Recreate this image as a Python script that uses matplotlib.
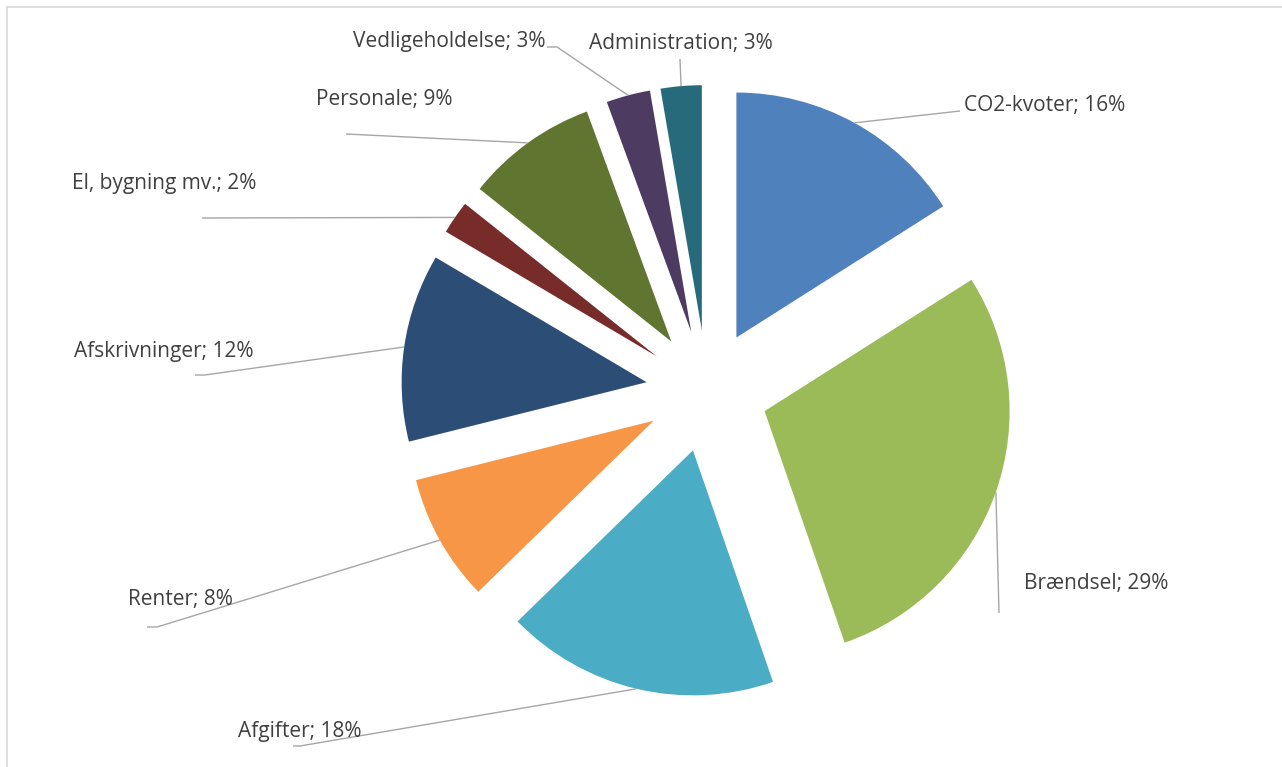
import numpy as np
import matplotlib.pyplot as plt
from matplotlib.lines import Line2D

# data (shares in %)
categories = ["CO2-kvoter", "Brændsel", "Afgifter", "Renter", "Afskrivninger",
              "El, bygning mv.", "Personale", "Vedligeholdelse", "Administration"]
shares = [16.0, 28.7, 18.0, 8.4, 12.4, 2.2, 8.7, 2.9, 2.7]
colors = ["#4F81BD", "#9BBB59", "#4BACC6", "#F79646", "#2C4D75",
          "#772C2A", "#5F7530", "#4D3B62", "#276A7C"]

# layout (pixel coords, y measured from top)
W, H = 1282, 767
center_px = (707, 391)
radius = 245
explode_px = 61
label_pos = [(964, 105), (1024, 584), (238, 731), (128, 599), (74, 352),
             (72, 184), (316, 100), (353, 42), (589, 44)]
leader_pts = [[(960, 111)], [(999, 613)], [(300, 746), (293, 746)],
              [(157, 627), (147, 627)], [(205, 375), (195, 375)],
              [(202, 218)], [(346, 134)], [(557, 47), (547, 47)],
              [(680, 59)]]

plt.rcParams['font.family'] = ['Open Sans', 'DejaVu Sans']

fig = plt.figure(figsize=(W / 100, H / 100), dpi=100)
ax = fig.add_axes([0, 0, 1, 1])
cx, cy = center_px[0], H - center_px[1]

# explode is an absolute offset in data units here
wedges, _ = ax.pie(shares, colors=colors, startangle=90, counterclock=False,
                   radius=radius, center=(cx, cy),
                   explode=[explode_px] * len(shares),
                   wedgeprops=dict(linewidth=0), frame=True)
ax.set_xlim(0, W)
ax.set_ylim(0, H)
ax.set_aspect('equal')
ax.axis('off')

total = sum(shares)
for w, name, val, (tx, ty), pts in zip(wedges, categories, shares, label_pos, leader_pts):
    mid = np.deg2rad((w.theta1 + w.theta2) / 2)
    ox, oy = w.center
    sx = ox + radius * np.cos(mid)
    sy = oy + radius * np.sin(mid)
    xs = [sx] + [p[0] for p in pts]
    ys = [sy] + [H - p[1] for p in pts]
    ax.plot(xs, ys, color="#A6A6A6", lw=1.0, solid_capstyle='butt')
    ax.text(tx, H - ty, f"{name}; {round(val / total * 100)}%",
            ha='left', va='center', fontsize=15, color="#404040")

# chart area border (top and left edges visible)
fig.add_artist(Line2D([7 / W, 7 / W], [0, 1 - 7 / H], color="#D9D9D9", lw=1.2,
                      transform=fig.transFigure))
fig.add_artist(Line2D([7 / W, 1], [1 - 7 / H, 1 - 7 / H], color="#D9D9D9", lw=1.2,
                      transform=fig.transFigure))

fig.savefig("out.png", dpi=100)
